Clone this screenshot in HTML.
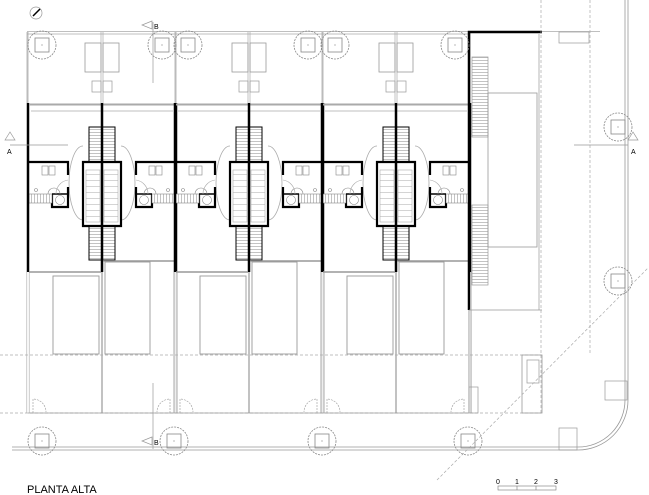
<!DOCTYPE html>
<html><head><meta charset="utf-8"><style>
html,body{margin:0;padding:0;background:#fff;}
svg{display:block;}
text{font-family:"Liberation Sans",sans-serif;fill:#000;}
</style></head><body>
<svg width="649" height="495" viewBox="0 0 649 495" xmlns="http://www.w3.org/2000/svg">
<defs>
  <g id="tree">
    <circle cx="0" cy="0" r="14" fill="none" stroke="#888" stroke-width="0.8" stroke-dasharray="2 1"/>
    <rect x="-7" y="-7" width="14" height="14" fill="none" stroke="#888" stroke-width="0.8"/>
    <circle cx="0" cy="0" r="0.6" fill="#888"/>
  </g>
  <pattern id="hatch" width="3" height="4" patternUnits="userSpaceOnUse">
    <rect width="3" height="4" fill="#fff"/>
    <line x1="0.5" y1="0" x2="0.5" y2="4" stroke="#888" stroke-width="0.5"/>
  </pattern>
  <pattern id="hatchH" width="4" height="3" patternUnits="userSpaceOnUse">
    <rect width="4" height="3" fill="#fff"/>
    <line x1="0" y1="0.5" x2="4" y2="0.5" stroke="#888" stroke-width="0.5"/>
  </pattern>
  <pattern id="hatchS" width="4" height="6" patternUnits="userSpaceOnUse">
    <rect width="4" height="6" fill="#fff"/>
    <line x1="0" y1="0.5" x2="4" y2="0.5" stroke="#aaa" stroke-width="0.5"/>
  </pattern>
  <g id="half">
    <path d="M55 146 A14 37 0 0 0 55 220" fill="none" stroke="#aaa" stroke-width="0.8"/>
    <rect x="61" y="127" width="13" height="35" fill="url(#hatchH)" stroke="#000" stroke-width="1"/>
    <rect x="61" y="226" width="13" height="34" fill="url(#hatchH)" stroke="#000" stroke-width="1"/>
    <rect x="58" y="170" width="14" height="52" fill="url(#hatchS)" stroke="#aaa" stroke-width="0.6"/>
    <path d="M74 162 H55 V226 H74" fill="none" stroke="#000" stroke-width="2.2"/>
    <path d="M0 162 H40 V175" fill="none" stroke="#000" stroke-width="2.2"/>
    <path d="M40 187 V207 H24 V194" fill="none" stroke="#000" stroke-width="2.2"/>
    <rect x="1" y="194" width="23" height="9" fill="url(#hatch)" stroke="#888" stroke-width="0.6"/>
    <line x1="24" y1="194" x2="40" y2="194" stroke="#000" stroke-width="1.5"/>
    <circle cx="32" cy="200" r="4.5" fill="none" stroke="#888" stroke-width="0.6"/>
    <rect x="14" y="166" width="6" height="9" fill="none" stroke="#888" stroke-width="0.6"/>
    <rect x="21" y="166" width="6" height="9" fill="none" stroke="#888" stroke-width="0.6"/>
    <path d="M20 194 A6 6 0 0 1 32 194" fill="none" stroke="#888" stroke-width="0.6"/>
    <path d="M40 180 A14 14 0 0 0 28 194" fill="none" stroke="#aaa" stroke-width="0.6"/>
    <circle cx="8" cy="190" r="1.5" fill="none" stroke="#888" stroke-width="0.6"/>
    <line x1="0" y1="103" x2="0" y2="272" stroke="#000" stroke-width="2.5"/>
    <line x1="1" y1="104.5" x2="73" y2="104.5" stroke="#aaa" stroke-width="2"/>
    <line x1="3" y1="111" x2="73" y2="111" stroke="#aaa" stroke-width="0.8"/>
    <line x1="0" y1="32" x2="0" y2="103" stroke="#aaa" stroke-width="0.8"/>
    <line x1="-1.2" y1="272" x2="-1.2" y2="413" stroke="#aaa" stroke-width="0.6"/>
    <line x1="1.2" y1="272" x2="1.2" y2="413" stroke="#aaa" stroke-width="0.6"/>
  </g>
  <g id="pair">
    <use href="#half"/>
    <use href="#half" transform="translate(148 0) scale(-1 1)"/>
    <line x1="74" y1="103" x2="74" y2="272" stroke="#000" stroke-width="2.5"/>
    <line x1="73" y1="32" x2="73" y2="103" stroke="#aaa" stroke-width="0.7"/>
    <line x1="75" y1="32" x2="75" y2="103" stroke="#aaa" stroke-width="0.7"/>
    <line x1="74" y1="272" x2="74" y2="413" stroke="#999" stroke-width="1.2"/>
    <rect x="57" y="43" width="16" height="29" fill="none" stroke="#999" stroke-width="0.8"/>
    <rect x="75" y="43" width="16" height="29" fill="none" stroke="#999" stroke-width="0.8"/>
    <rect x="64" y="81" width="9" height="11" fill="none" stroke="#999" stroke-width="0.7"/>
    <rect x="75" y="81" width="9" height="11" fill="none" stroke="#999" stroke-width="0.7"/>
    <line x1="1" y1="272" x2="73" y2="272" stroke="#999" stroke-width="1.5"/>
    <line x1="75" y1="261" x2="146" y2="261" stroke="#999" stroke-width="1.5"/>
    <rect x="25" y="276" width="46" height="78" fill="none" stroke="#999" stroke-width="0.9"/>
    <rect x="77" y="262" width="45" height="92" fill="none" stroke="#999" stroke-width="0.9"/>
    <path d="M5 413 V399 A13 13 0 0 1 18 412" fill="none" stroke="#999" stroke-width="0.6" stroke-dasharray="2 1"/>
    <path d="M142 413 V399 A13 13 0 0 0 129 412" fill="none" stroke="#999" stroke-width="0.6" stroke-dasharray="2 1"/>
  </g>
</defs>

<line x1="27" y1="31.5" x2="600" y2="31.5" stroke="#aaa" stroke-width="0.8"/>
<line x1="27" y1="34" x2="469" y2="34" stroke="#aaa" stroke-width="0.8"/>
<line x1="27" y1="32" x2="27" y2="103" stroke="#aaa" stroke-width="0.8"/>

<use href="#pair" transform="translate(28 0)"/>
<use href="#pair" transform="translate(175 0)"/>
<use href="#pair" transform="translate(322 0)"/>

<line x1="0" y1="355" x2="541" y2="355" stroke="#aaa" stroke-width="0.7" stroke-dasharray="3 2"/>
<line x1="0" y1="413" x2="541" y2="413" stroke="#aaa" stroke-width="0.7" stroke-dasharray="3 2"/>
<line x1="28" y1="413" x2="469" y2="413" stroke="#999" stroke-width="0.8"/>

<path d="M469 310 V32 H542" fill="none" stroke="#000" stroke-width="2.5"/>
<line x1="469" y1="310" x2="542" y2="310" stroke="#999" stroke-width="0.8"/>
<line x1="541" y1="0" x2="541" y2="413" stroke="#aaa" stroke-width="0.7" stroke-dasharray="3 2"/>
<line x1="539" y1="34" x2="539" y2="310" stroke="#999" stroke-width="0.7"/>
<line x1="590" y1="0" x2="590" y2="355" stroke="#aaa" stroke-width="0.7" stroke-dasharray="3 2"/>
<rect x="472" y="57" width="16" height="80" fill="url(#hatchH)" stroke="#999" stroke-width="0.7"/>
<rect x="472" y="205" width="16" height="80" fill="url(#hatchH)" stroke="#999" stroke-width="0.7"/>
<rect x="488" y="93" width="49" height="154" fill="none" stroke="#999" stroke-width="0.8"/>
<line x1="469" y1="310" x2="469" y2="413" stroke="#999" stroke-width="0.8"/>
<line x1="471" y1="310" x2="471" y2="413" stroke="#999" stroke-width="0.8"/>
<rect x="469" y="387" width="9" height="26" fill="none" stroke="#999" stroke-width="0.7"/>
<rect x="559" y="32" width="30" height="11" fill="none" stroke="#999" stroke-width="0.7"/>
<rect x="522" y="355" width="20" height="58" fill="none" stroke="#999" stroke-width="0.8"/>
<rect x="527" y="360" width="12" height="23" fill="none" stroke="#999" stroke-width="0.7"/>

<path d="M625 0 V400 A47 47 0 0 1 578 447 H12" fill="none" stroke="#999" stroke-width="0.8"/>
<path d="M628 0 V400 A50 50 0 0 1 578 450 H12" fill="none" stroke="#999" stroke-width="0.8"/>
<rect x="605" y="381" width="22" height="19" fill="none" stroke="#999" stroke-width="0.7"/>
<rect x="559" y="428" width="18" height="22" fill="none" stroke="#999" stroke-width="0.7"/>
<line x1="437" y1="480" x2="648" y2="268" stroke="#aaa" stroke-width="0.7" stroke-dasharray="3 2"/>

<use href="#tree" x="42" y="45"/>
<use href="#tree" x="162" y="45"/>
<use href="#tree" x="188" y="45"/>
<use href="#tree" x="308" y="45"/>
<use href="#tree" x="335" y="45"/>
<use href="#tree" x="455" y="45"/>
<use href="#tree" x="618" y="127"/>
<use href="#tree" x="618" y="281"/>
<use href="#tree" x="42" y="441"/>
<use href="#tree" x="174" y="441"/>
<use href="#tree" x="322" y="441"/>
<use href="#tree" x="468" y="441"/>

<line x1="10" y1="145" x2="68" y2="145" stroke="#999" stroke-width="0.7"/>
<path d="M5 140 L10 132 L15 140 Z" fill="none" stroke="#999" stroke-width="0.7"/>
<text x="7" y="154" font-size="7">A</text>
<line x1="574" y1="145" x2="628" y2="145" stroke="#999" stroke-width="0.7"/>
<path d="M628 140 L633 132 L638 140 Z" fill="none" stroke="#999" stroke-width="0.7"/>
<text x="631" y="154" font-size="7">A</text>
<line x1="153" y1="22" x2="153" y2="83" stroke="#999" stroke-width="0.7"/>
<path d="M152 21 L142 25 L152 29 Z" fill="none" stroke="#999" stroke-width="0.7"/>
<text x="154" y="29" font-size="7">B</text>
<line x1="153" y1="383" x2="153" y2="449" stroke="#999" stroke-width="0.7"/>
<path d="M152 437 L142 441 L152 445 Z" fill="none" stroke="#999" stroke-width="0.7"/>
<text x="154" y="445" font-size="7">B</text>

<circle cx="36" cy="13" r="6" fill="none" stroke="#999" stroke-width="0.7"/>
<line x1="33" y1="16" x2="40" y2="9" stroke="#000" stroke-width="1.5"/>

<text x="27" y="493" font-size="11">PLANTA ALTA</text>
<text x="496" y="484" font-size="7">0</text>
<text x="515" y="484" font-size="7">1</text>
<text x="534" y="484" font-size="7">2</text>
<text x="554" y="484" font-size="7">3</text>
<rect x="498" y="486" width="58" height="4" fill="none" stroke="#777" stroke-width="0.6"/>
<line x1="517" y1="486" x2="517" y2="490" stroke="#777" stroke-width="0.6"/>
<line x1="536" y1="486" x2="536" y2="490" stroke="#777" stroke-width="0.6"/>
</svg>
</body></html>
